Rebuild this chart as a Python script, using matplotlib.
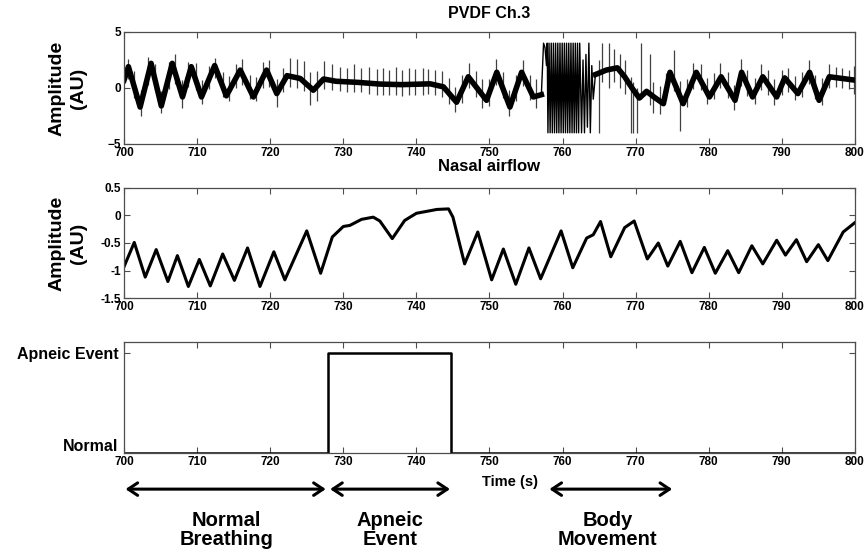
import matplotlib
matplotlib.use("Agg")
import matplotlib.pyplot as plt
import matplotlib.transforms as mtransforms

plt.rcParams['font.family'] = ['Liberation Sans', 'DejaVu Sans']
plt.rcParams['font.weight'] = 'bold'

# ---- PVDF Ch.3 (slow breathing component) ----
pvdf_t = [700.0, 700.6, 702.2, 703.7, 705.1, 706.6, 708.0, 709.2, 710.6, 712.4,
          714.0, 715.9, 717.7, 719.5, 720.9, 722.3, 724.1, 725.9, 727.3, 729.0,
          732.0, 735.0, 738.0, 741.9, 743.7, 745.5, 747.1, 749.6, 751.0, 752.8,
          754.4, 756.0, 757.1]
pvdf_v = [0.7, 1.9, -1.7, 2.2, -1.6, 2.2, -0.8, 1.9, -0.8, 2.0,
          -0.7, 1.6, -0.8, 1.6, -0.5, 1.1, 0.85, -0.2, 0.8, 0.6,
          0.5, 0.35, 0.3, 0.37, 0.1, -1.27, 1.0, -1.1, 1.4, -1.7,
          1.4, -0.8, -0.6]

# body movement burst (clipped at +/-4)
burst_t = [757.1, 757.4, 757.6, 757.8, 757.9, 758.0, 758.15, 758.3, 758.45, 758.6,
           758.75, 758.9, 759.05, 759.2, 759.35, 759.5, 759.65, 759.8, 759.95, 760.1,
           760.25, 760.4, 760.55, 760.7, 760.85, 761.0, 761.15, 761.3, 761.45, 761.6,
           761.75, 761.9, 762.05, 762.2, 762.35, 762.6, 762.8, 763.0, 763.2, 763.4,
           763.6, 763.8, 764.0, 764.2, 764.5]
burst_v = [-0.6, 4, 3.6, 2.0, 4, -4, 4, -4, 4, -4,
           4, -4, 4, -4, 4, -4, 4, -4, 4, -4,
           4, -4, 4, -4, 4, -4, 4, -4, 4, -4,
           4, -4, 4, -4, 4, -4, 2.5, -4, 3.0, -3.5,
           4, -4, 2.0, -1.0, 1.2]

pvdf2_t = [764.5, 766.0, 767.5, 768.5, 769.5, 770.5, 771.5, 772.5, 773.8, 774.7,
           776.5, 778.3, 780.1, 781.7, 783.6, 784.5, 786.0, 787.4, 789.3, 790.4,
           792.2, 793.8, 795.1, 796.5, 800.0]
pvdf2_v = [1.2, 1.6, 1.8, 1.0, 0.0, -0.9, -0.3, -0.8, -1.4, 1.4,
           -1.4, 1.4, -0.8, 1.0, -1.1, 1.4, -0.8, 1.0, -0.8, 0.9,
           -0.5, 1.4, -1.1, 1.0, 0.7]

# heartbeat / noise spikes: time, top, bottom
spike_t = [700.5, 701.4, 702.3, 703.3, 704.2, 705.1, 706.1, 707.0, 707.9, 708.8,
           709.8, 710.7, 711.6, 712.5, 713.5, 714.4, 715.3, 716.2, 717.2, 718.1,
           719.0, 719.9, 720.9, 721.8, 722.7, 723.6, 724.6, 725.5, 726.4, 727.3,
           728.5, 729.5, 730.5, 731.4, 732.4, 733.5, 734.6, 735.5, 736.3, 737.2,
           738.1, 739.0, 739.8, 740.9, 741.6, 742.5, 743.5, 744.4, 745.3, 746.2,
           747.2, 748.1, 749.0, 749.9, 750.9, 751.8, 752.7, 753.6, 754.6, 755.5,
           756.4,
           765.0, 765.4, 766.3, 767.0, 767.8, 768.6, 769.3, 769.7, 770.2, 770.8,
           771.9,
           772.4, 773.3, 774.2, 775.2, 776.1, 777.0, 777.9, 778.9, 779.8, 780.7,
           781.6, 782.6, 783.5, 784.4, 785.3, 786.3, 787.2, 788.1, 789.0, 790.0,
           790.9, 791.8, 792.7, 793.7, 794.6, 795.5, 796.4, 797.4, 798.3, 799.2,
           799.9]
spike_top = [2.6, 1.5, -0.2, 2.8, 2.1, -0.3, 2.3, 3.0, 0.7, 2.3,
             2.2, 0.7, 2.0, 2.7, 1.4, 1.1, 2.1, 2.6, 1.2, 1.0,
             2.3, 2.5, 0.8, 1.8, 2.7, 2.6, 2.4, 1.4, 1.5, 2.4,
             2.1, 1.9, 1.8, 2.1, 1.8, 1.9, 1.7, 1.8, 1.6, 1.9,
             1.6, 1.8, 1.7, 1.8, 1.7, 1.6, 1.5, 0.9, 0.1, 1.2,
             2.2, 1.5, 0.8, 0.8, 2.6, 1.4, -0.2, 1.2, 2.5, 1.2,
             0.8,
             2.5, 4.0, 4.0, 3.5, 3.0, 2.5, 1.0, 0.5, 0.0, 4.0,
             3.0,
             0.5, 0.2, 1.3, 3.4, 0.6, 0.8, 2.2, 2.1, 0.9, 1.3,
             2.2, 1.4, 0.3, 2.6, 1.6, 0.9, 2.1, 1.6, 0.8, 1.6,
             1.8, 1.1, 1.4, 2.5, 1.2, 0.9, 2.1, 1.9, 1.8, 1.6,
             2.0]
spike_bot = [0.8, -0.9, -2.5, 0.3, -0.2, -2.2, -0.1, 0.4, -1.8, 0.1,
             -0.2, -1.4, -0.1, 0.9, -0.8, -1.2, 0.0, 0.3, -1.0, -1.2,
             0.0, 0.1, -1.7, -0.4, 0.1, 0.0, -0.3, -1.5, -1.2, -0.1,
             -0.2, -0.3, -0.4, -0.4, -0.4, -0.5, -0.6, -0.6, -0.6, -0.6,
             -0.7, -0.6, -0.6, -0.6, -0.5, -0.6, -0.8, -1.4, -2.1, -1.3,
             0.0, -0.8, -1.8, -1.6, 0.3, -0.9, -2.5, -1.2, 0.2, -1.1,
             -1.8,
             -4.0, 0.5, 0.0, 0.5, 0.0, -0.5, -4.0, -4.0, -4.0, -1.0,
             -1.5,
             -2.2, -2.3, -1.1, -0.3, -3.8, -1.7, -0.1, -0.2, -1.4, -1.0,
             0.0, -0.9, -2.0, 0.2, -0.7, -1.4, -0.2, -0.6, -1.5, -0.6,
             -0.4, -1.1, -0.8, 0.4, -1.0, -1.5, 0.0, 0.1, 0.0, -0.1,
             -0.5]

# ---- Nasal airflow (extrema) ----
nasal_t = [700.0, 701.4, 702.9, 704.4, 706.0, 707.3, 708.8, 710.3, 711.8, 713.5,
           715.1, 716.9, 718.6, 720.5, 722.0, 725.0, 726.9, 728.5, 730.0, 730.9,
           732.5, 734.1, 735.0, 736.7, 738.4, 740.0, 742.8, 744.4, 745.0, 746.6,
           748.4, 750.3, 751.9, 753.6, 755.4, 757.0, 759.8, 761.4, 763.3, 764.2,
           765.2, 766.6, 768.5, 769.8, 771.6, 773.1, 774.4, 776.1, 777.7, 779.4,
           780.9, 782.6, 784.1, 785.9, 787.4, 789.3, 790.5, 792.0, 793.4, 795.0,
           796.3, 798.4, 800.0]
nasal_v = [-0.93, -0.49, -1.12, -0.62, -1.2, -0.73, -1.29, -0.8, -1.28, -0.7,
           -1.18, -0.59, -1.29, -0.66, -1.17, -0.28, -1.05, -0.39, -0.2, -0.18,
           -0.07, -0.03, -0.1, -0.42, -0.09, 0.04, 0.11, 0.12, -0.03, -0.88,
           -0.3, -1.17, -0.61, -1.25, -0.59, -1.15, -0.28, -0.95, -0.41, -0.35,
           -0.11, -0.75, -0.22, -0.1, -0.79, -0.5, -0.92, -0.47, -1.04, -0.58,
           -1.05, -0.64, -1.04, -0.55, -0.88, -0.45, -0.72, -0.44, -0.84, -0.53,
           -0.82, -0.3, -0.13]

# ---- Event annotation ----
event_t = [700, 727.9, 744.7, 800]
event_state = [0, 1, 0, 0]
event_labels = ['Normal', 'Apneic Event']

# phases marked under the time axis: start, end, label
phase_start = [700.2, 728.2, 758.2]
phase_end = [727.6, 744.6, 775.0]
phase_names = ['Normal\nBreathing', 'Apneic\nEvent', 'Body\nMovement']
phase_text_x = [714.0, 736.4, 766.2]

time_ticks = list(range(700, 801, 10))

fig = plt.figure(figsize=(8.68, 5.59), dpi=100)
ax1 = fig.add_axes([0.1429, 0.7424, 0.842, 0.2004])
ax2 = fig.add_axes([0.1429, 0.4669, 0.842, 0.1968])
ax3 = fig.add_axes([0.1429, 0.1896, 0.842, 0.1986])

ax1.vlines(spike_t, spike_bot, spike_top, color='0.25', lw=0.9, zorder=1)
ax1.plot(pvdf_t, pvdf_v, color='black', lw=4.0, solid_joinstyle='round', zorder=2)
ax1.plot(burst_t, burst_v, color='black', lw=1.0, zorder=2)
ax1.plot(pvdf2_t, pvdf2_v, color='black', lw=4.0, solid_joinstyle='round', zorder=2)
ax1.set_ylim(-5, 5)
ax1.set_yticks([-5, 0, 5])
ax1.set_title('PVDF Ch.3', fontsize=11.5, fontweight='bold', pad=10)

ax2.plot(nasal_t, nasal_v, color='black', lw=2.2, solid_joinstyle='round')
ax2.set_ylim(-1.5, 0.5)
ax2.set_yticks([-1.5, -1, -0.5, 0, 0.5])
ax2.set_yticklabels(['-1.5', '-1', '-0.5', '0', '0.5'])
ax2.set_title('Nasal airflow', fontsize=12, fontweight='bold', pad=12)

ax3.step(event_t, event_state, where='post', color='black', lw=1.8)
ax3.set_ylim(0, 1.11)
ax3.set_yticks([0, 1])

for ax in (ax1, ax2, ax3):
    ax.set_xlim(700, 800)
    ax.set_xticks(time_ticks)
    ax.tick_params(direction='in', top=True, right=True, length=4, width=0.8,
                   color='0.3', labelsize=8.5, pad=2)
    for sp in ax.spines.values():
        sp.set_color('0.3')
        sp.set_linewidth(0.9)

ax3.set_yticklabels(event_labels, fontsize=11.5)
ax3.tick_params(axis='y', pad=4)
# the "Normal" label sits a little above the baseline in the original
normal_lbl = ax3.get_yticklabels()[0]
normal_lbl.set_transform(normal_lbl.get_transform() +
                         mtransforms.ScaledTranslation(0, 6 / 72, fig.dpi_scale_trans))

for ax in (ax1, ax2):
    pos = ax.get_position()
    fig.text(0.078, pos.y0 + pos.height / 2, 'Amplitude\n(AU)', rotation=90,
             ha='center', va='center', fontsize=14, fontweight='bold',
             linespacing=1.35)

fig.text(0.587, 0.137, 'Time (s)', ha='center', va='center', fontsize=10.5,
         fontweight='bold')

trans = mtransforms.blended_transform_factory(ax3.transData, fig.transFigure)
for x0, x1 in zip(phase_start, phase_end):
    ax3.annotate('', xy=(x1, 0.125), xytext=(x0, 0.125), xycoords=trans,
                 textcoords=trans, annotation_clip=False,
                 arrowprops=dict(arrowstyle='<->,head_length=0.45,head_width=0.3',
                                 lw=2.2, color='black', mutation_scale=15,
                                 shrinkA=0, shrinkB=0))
for xt, name in zip(phase_text_x, phase_names):
    ax3.text(xt, 0.052, name, transform=trans, ha='center', va='center',
             fontsize=14.5, fontweight='bold', linespacing=1.05)

fig.savefig('out.png', dpi=100)
